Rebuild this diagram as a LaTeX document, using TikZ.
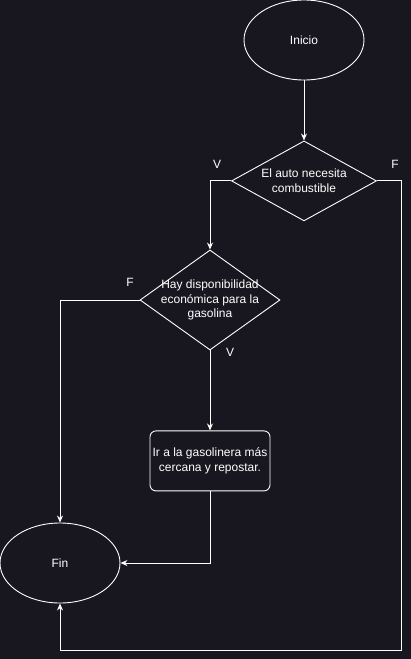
\documentclass[tikz,border=0pt]{standalone}
\usepackage{fontspec}
\setmainfont{Liberation Sans}
\usepackage{tikz}
\usetikzlibrary{positioning,arrows.meta,shapes.geometric}
\definecolor{bg}{RGB}{24,22,30}

\begin{document}
\begin{tikzpicture}[x=1pt,y=1pt,>={Stealth[length=7pt,width=6pt]},line width=0.9pt,white,font=\fontsize{12}{14.5}\selectfont,node distance=60pt]
\tikzstyle{term}=[ellipse,draw,minimum width=120pt,minimum height=80pt,inner sep=0pt]
\tikzstyle{dec}=[diamond,draw,inner sep=0pt]
\tikzstyle{proc}=[rectangle,draw,rounded corners=6pt,align=center,minimum width=120pt,minimum height=60pt,inner sep=2pt]
\tikzstyle{lbl}=[align=center,inner sep=0pt]
\tikzstyle{tag}=[inner sep=0pt]

% Background
\fill[bg] (0,0) rectangle (411,-659);
\useasboundingbox (0,0) rectangle (411,-659);

% Nodes
\node[term] (inicio) at (304,-40) {Inicio};
\node[dec,minimum width=145pt,minimum height=80pt,below=60pt of inicio,
  label={[lbl]center:{El auto necesita\\combustible}}] (auto) {};
\node[dec,minimum width=140pt,minimum height=100pt,
  label={[lbl]center:{Hay disponibilidad\\económica para la\\gasolina}}] (dinero) at (210,-300) {};
\node[proc,below=80pt of dinero] (ir) {Ir a la gasolinera más\\cercana y repostar.};
\node[term] (fin) at (60,-563) {Fin};
\coordinate (vuelta) at (401,-650);

% V / F tags
\node[tag] (v1) at (217,-164) {V};
\node[tag] (f1) at (395,-164) {F};
\node[tag] (f2) at (130,-282) {F};
\node[tag] (v2) at (230,-352) {V};

% Flows
\draw[->] (inicio) -- (auto);
\draw[->] (auto.west) -| (dinero.north);
\draw[->] (dinero.west) -| (fin.north);
\draw[->] (dinero.south) -- (ir.north);
\draw[->] (ir.south) |- (fin.east);
\draw[->] (auto.east) -| (vuelta) -| (fin.south);
\end{tikzpicture}
\end{document}
